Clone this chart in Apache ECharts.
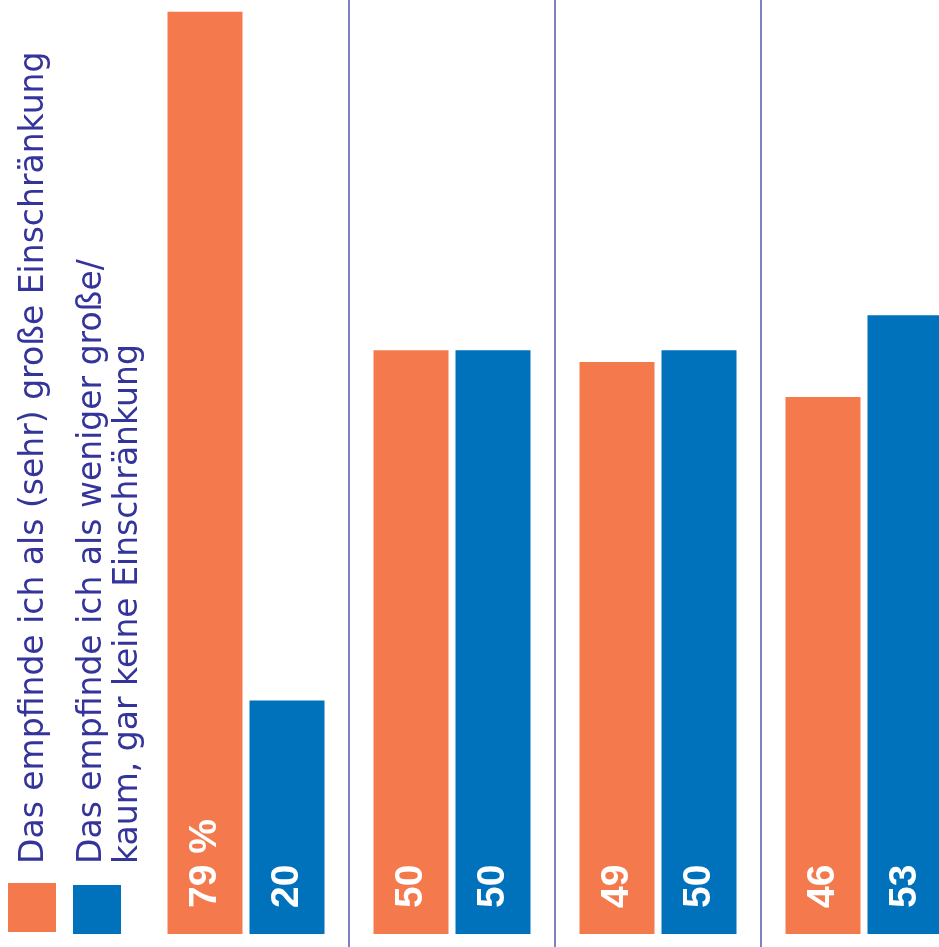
<!DOCTYPE html>
<html>
<head>
<meta charset="utf-8">
<script src="https://cdn.jsdelivr.net/npm/echarts@6/dist/echarts.min.js"></script>
<style>
html,body{margin:0;padding:0;background:#fff;}
#chart{width:939px;height:947px;}
</style>
</head>
<body>
<div id="chart"></div>
<script>
const categories = ['Gruppe 1', 'Gruppe 2', 'Gruppe 3', 'Gruppe 4'];
const seriesNames = [
  'Das empfinde ich als (sehr) große Einschränkung',
  'Das empfinde ich als weniger große/\nkaum, gar keine Einschränkung'
];
const valuesHigh = [79, 50, 49, 46];
const valuesLow = [20, 50, 50, 53];
const colors = ['#F47A4E', '#0072BB'];

const textColor = '#34349A';
const sepColor = '#8080C2';

const chart = echarts.init(document.getElementById('chart'));

const labelCfg = {
  show: true,
  position: 'insideBottom',
  rotate: 90,
  align: 'left',
  verticalAlign: 'middle',
  distance: 26,
  color: '#ffffff',
  fontFamily: 'Liberation Sans, Arial, sans-serif',
  fontWeight: 'bold',
  fontSize: 39,
  formatter: function (p) {
    return (p.seriesIndex === 0 && p.dataIndex === 0) ? p.value + ' %' : String(p.value);
  }
};

const legendFont = '33px "DejaVu Sans", sans-serif';

chart.setOption({
  animation: false,
  backgroundColor: '#ffffff',
  grid: { left: 143, top: 0, width: 824, bottom: 0, containLabel: false, outerBoundsMode: 'none' },
  xAxis: {
    type: 'category',
    data: categories,
    axisLine: { show: false },
    axisTick: { show: false },
    axisLabel: { show: false },
    splitLine: {
      show: true,
      lineStyle: { color: ['rgba(0,0,0,0)', sepColor, sepColor, sepColor, sepColor], width: 2 }
    }
  },
  yAxis: {
    type: 'value',
    min: -1.11,
    max: 80,
    show: false,
    splitLine: { show: false }
  },
  series: [
    {
      name: seriesNames[0],
      type: 'bar',
      data: valuesHigh,
      barWidth: 75,
      barGap: '9.33%',
      itemStyle: { color: colors[0] },
      label: labelCfg
    },
    {
      name: seriesNames[1],
      type: 'bar',
      data: valuesLow,
      barWidth: 75,
      barGap: '9.33%',
      itemStyle: { color: colors[1] },
      label: labelCfg
    }
  ],
  graphic: [
    { type: 'rect', shape: { x: 8, y: 883, width: 48, height: 49 }, style: { fill: colors[0] } },
    { type: 'rect', shape: { x: 73, y: 885, width: 48, height: 49 }, style: { fill: colors[1] } },
    {
      type: 'text', x: 51, y: 864, rotation: Math.PI / 2,
      style: { text: seriesNames[0], fill: textColor, font: legendFont, textAlign: 'left', textVerticalAlign: 'bottom' }
    },
    {
      type: 'text', x: 146, y: 864, rotation: Math.PI / 2,
      style: { text: seriesNames[1], fill: textColor, font: legendFont, lineHeight: 36, textAlign: 'left', textVerticalAlign: 'bottom' }
    }
  ]
});
</script>
</body>
</html>
